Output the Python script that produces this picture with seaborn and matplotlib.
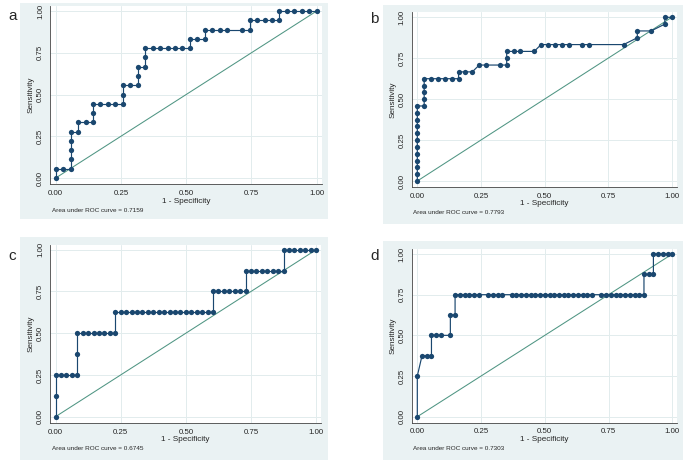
import numpy as np
import matplotlib
matplotlib.use("Agg")
import matplotlib.pyplot as plt
from matplotlib.patches import Rectangle
import seaborn as sns

# ── Data: ROC points as counts of false / true positives ─────────────────────
a_neg, a_pos = 35, 18
a_fp = [0, 0, 1, 2, 2, 2, 2, 2, 3, 3, 4, 5, 5, 5, 6, 7, 8, 9, 9, 9, 10, 11, 11, 11,
        12, 12, 12, 13, 14, 15, 16, 17, 18, 18, 19, 20, 20, 21, 22, 23, 25, 26, 26,
        27, 28, 29, 30, 30, 31, 32, 33, 34, 35]
a_tp = [0, 1, 1, 1, 2, 3, 4, 5, 5, 6, 6, 6, 7, 8, 8, 8, 8, 8, 9, 10, 10, 10, 11, 12,
        12, 13, 14, 14, 14, 14, 14, 14, 14, 15, 15, 15, 16, 16, 16, 16, 16, 16, 17,
        17, 17, 17, 17, 18, 18, 18, 18, 18, 18]
a_auc = "0.7159"

b_neg, b_pos = 37, 24
b_fp = [0, 0, 0, 0, 0, 0, 0, 0, 0, 0, 0, 0, 1, 1, 1, 1, 1, 2, 3, 4, 5, 6, 6, 7, 8,
        9, 10, 12, 13, 13, 13, 14, 15, 17, 18, 19, 20, 21, 22, 24, 25, 30, 32, 32,
        34, 36, 36, 37]
b_tp = [0, 1, 2, 3, 4, 5, 6, 7, 8, 9, 10, 11, 11, 12, 13, 14, 15, 15, 15, 15, 15,
        15, 16, 16, 16, 17, 17, 17, 17, 18, 19, 19, 19, 19, 20, 20, 20, 20, 20, 20,
        20, 20, 21, 22, 22, 23, 24, 24]
b_auc = "0.7793"

c_neg, c_pos = 48, 8
c_fp = [0, 0, 0, 1, 2, 3, 4, 4, 4, 5, 6, 7, 8, 9, 10, 11, 11, 12, 13, 14, 15, 16, 17,
        18, 19, 20, 21, 22, 23, 24, 25, 26, 27, 28, 29, 29, 30, 31, 32, 33, 34, 35,
        35, 36, 37, 38, 39, 40, 41, 42, 42, 43, 44, 45, 46, 47, 48]
c_tp = [0, 1, 2, 2, 2, 2, 2, 3, 4, 4, 4, 4, 4, 4, 4, 4, 5, 5, 5, 5, 5, 5, 5, 5, 5, 5,
        5, 5, 5, 5, 5, 5, 5, 5, 5, 6, 6, 6, 6, 6, 6, 6, 7, 7, 7, 7, 7, 7, 7, 7, 8, 8,
        8, 8, 8, 8, 8]
c_auc = "0.6745"

d_neg, d_pos = 54, 8
d_fp = [0, 0, 1, 2, 3, 3, 4, 5, 7, 7, 8, 8, 9, 10, 11, 12, 13, 15, 16, 17, 18, 20,
        21, 22, 23, 24, 25, 26, 27, 28, 29, 30, 31, 32, 33, 34, 35, 36, 37, 39, 40,
        41, 42, 43, 44, 45, 46, 47, 48, 48, 49, 50, 50, 51, 52, 53, 54]
d_tp = [0, 2, 3, 3, 3, 4, 4, 4, 4, 5, 5, 6, 6, 6, 6, 6, 6, 6, 6, 6, 6, 6, 6, 6, 6,
        6, 6, 6, 6, 6, 6, 6, 6, 6, 6, 6, 6, 6, 6, 6, 6, 6, 6, 6, 6, 6, 6, 6, 6, 7, 7,
        7, 8, 8, 8, 8, 8]
d_auc = "0.7303"

ref_line = [0, 1]
tick_vals = [0, 0.25, 0.5, 0.75, 1]
tick_labels = ["0.00", "0.25", "0.50", "0.75", "1.00"]

# ── Style ────────────────────────────────────────────────────────────────────
sns.set_style("white")
plt.rcParams["font.family"] = ["Liberation Sans", "DejaVu Sans"]

NAVY = "#1a476f"
REF = "#4f9583"
BG = "#eaf2f3"
W, H = 685, 462

# layout in pixels: background box, data 0/1 pixel positions, label spot
panels = [
    dict(lab="a", fp=a_fp, tp=a_tp, n=a_neg, p=a_pos, auc=a_auc,
         box=(20, 3, 328, 219), px=(55.7, 316.7, 178, 11), lpos=(8, 16)),
    dict(lab="b", fp=b_fp, tp=b_tp, n=b_neg, p=b_pos, auc=b_auc,
         box=(383, 5, 683, 224), px=(417.3, 671.7, 181, 17.3), lpos=(370, 19)),
    dict(lab="c", fp=c_fp, tp=c_tp, n=c_neg, p=c_pos, auc=c_auc,
         box=(20, 237, 328, 460), px=(55.5, 316.2, 416.7, 249.7), lpos=(8, 256)),
    dict(lab="d", fp=d_fp, tp=d_tp, n=d_neg, p=d_pos, auc=d_auc,
         box=(383, 241, 683, 460), px=(417.3, 672.3, 416.7, 254), lpos=(370, 256)),
]

XL, XR = -0.022, 1.02
YB, YT = -0.036, 1.03

fig = plt.figure(figsize=(W / 100, H / 100), dpi=100)

for pn in panels:
    bx0, by0, bx1, by1 = pn["box"]
    fig.patches.append(Rectangle((bx0 / W, 1 - by1 / H), (bx1 - bx0) / W,
                                 (by1 - by0) / H, transform=fig.transFigure,
                                 facecolor=BG, edgecolor="none", zorder=-5))

    x0, x1, y0, y1 = pn["px"]
    left = x0 + XL * (x1 - x0)
    right = x0 + XR * (x1 - x0)
    bot = y0 - YB * (y0 - y1)
    top = y0 - YT * (y0 - y1)
    ax = fig.add_axes([left / W, 1 - bot / H, (right - left) / W, (bot - top) / H])
    ax.set_zorder(2)
    ax.set_facecolor("white")

    sns.lineplot(x=ref_line, y=ref_line, ax=ax, color=REF, lw=0.75, zorder=2)
    fpr = np.array(pn["fp"]) / pn["n"]
    tpr = np.array(pn["tp"]) / pn["p"]
    sns.lineplot(x=fpr, y=tpr, ax=ax, sort=False, estimator=None, color=NAVY,
                 lw=0.85, marker="o", markersize=3.8, markeredgewidth=0, zorder=3)

    ax.set_xlim(XL, XR)
    ax.set_ylim(YB, YT)
    ax.set_xticks(tick_vals)
    ax.set_xticklabels(tick_labels)
    ax.set_yticks(tick_vals)
    ax.set_yticklabels(tick_labels, rotation=90, va="center")
    ax.grid(True, color="#e2eced", lw=0.7)
    ax.set_axisbelow(True)
    ax.tick_params(axis="both", labelsize=5.7, length=2.2, width=0.5,
                   color="#444444", pad=2, direction="out")
    for side in ["top", "right"]:
        ax.spines[side].set_visible(False)
    for side in ["left", "bottom"]:
        ax.spines[side].set_color("#444444")
        ax.spines[side].set_linewidth(0.6)

    ax.set_xlabel("1 - Specificity", fontsize=5.9, labelpad=0.5)
    ax.set_ylabel("Sensitivity", fontsize=5.9, labelpad=1.5)

    fig.text((x0 - 4) / W, 1 - (y0 + 32) / H, "Area under ROC curve = " + pn["auc"],
             fontsize=4.6, va="center", ha="left")
    fig.text(pn["lpos"][0] / W, 1 - pn["lpos"][1] / H, pn["lab"], fontsize=11,
             va="center", ha="left")

fig.savefig("out.png", dpi=100)
